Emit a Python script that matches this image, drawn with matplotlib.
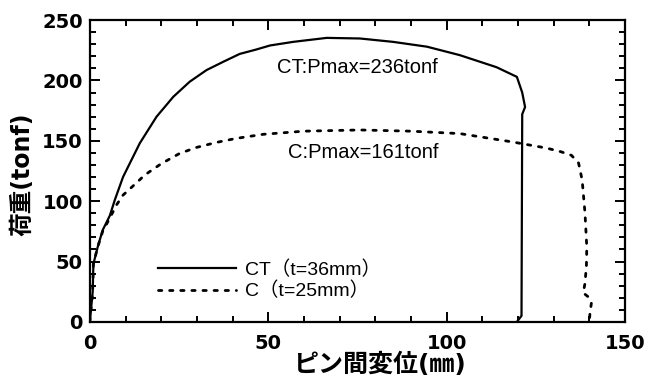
import matplotlib.pyplot as plt
from matplotlib.ticker import MultipleLocator

# CT (t=36mm) : 荷重-変位曲線
ct_x = [0, 0.8, 1.0, 2.2, 3.6, 5.6, 7, 9.3, 14, 18.7, 23.4, 28, 32.7, 37.4, 42,
        46.7, 50.5, 57, 66.4, 75.7, 85, 94.5, 103.7, 114, 119.7, 121.2, 122,
        121.2, 121, 119.7]
ct_y = [0, 25, 48, 62, 76, 88, 101, 120, 148, 170, 186.5, 199, 208.6, 215.5, 222,
        225.7, 229, 232, 235.3, 234.8, 232, 228, 221, 211, 203, 190, 178,
        172, 5, 0]

# C (t=25mm)
c_x = [0, 0.8, 1.0, 2.2, 3.6, 5.6, 7.5, 9.3, 13, 15.4, 20, 25.2, 30, 35.5, 41,
       48.6, 60, 75.7, 90, 103.7, 118.6, 128, 132, 135, 137, 138, 138.8, 139.3,
       139.2, 138.8, 138.3, 139.6, 140.6, 140.2, 140]
c_y = [0, 25, 48, 62, 75, 86, 97, 105, 115, 121.7, 131, 139.6, 144.6, 148.7, 152,
       155.4, 158, 159, 158, 156, 149, 144, 141, 138, 131.6, 117.5, 90, 62,
       47, 32, 24, 21, 15.7, 7.4, 0]

labels = ["CT（t=36mm）", "C（t=25mm）"]
notes = ["CT:Pmax=236tonf", "C:Pmax=161tonf"]

cjk = ['DejaVu Sans', 'Noto Sans CJK JP']
txt = ['Liberation Sans', 'Noto Sans CJK JP']

fig = plt.figure(figsize=(6.51, 3.8), dpi=100)
ax = fig.add_axes([0.138, 0.153, 0.822, 0.794])

ax.plot(ct_x, ct_y, color='black', lw=1.6, label=labels[0])
ax.plot(c_x, c_y, color='black', lw=2.0, linestyle=(0, (1.2, 2.8)),
        dash_capstyle='round', label=labels[1])

ax.set_xlim(0, 150)
ax.set_ylim(0, 250)
ax.xaxis.set_major_locator(MultipleLocator(50))
ax.xaxis.set_minor_locator(MultipleLocator(10))
ax.yaxis.set_major_locator(MultipleLocator(50))
ax.yaxis.set_minor_locator(MultipleLocator(10))
ax.tick_params(which='both', direction='in', top=True, right=True, width=1.4)
ax.tick_params(which='major', length=7.5)
ax.tick_params(which='minor', length=4.5)
ax.tick_params(axis='x', pad=9)
ax.tick_params(axis='y', pad=5)
for lab in ax.get_xticklabels() + ax.get_yticklabels():
    lab.set_fontfamily('DejaVu Sans')
    lab.set_fontweight('bold')
    lab.set_fontsize(14)
for s in ax.spines.values():
    s.set_linewidth(1.6)

ax.set_xlabel("ピン間変位(㎜)", family=cjk, fontsize=18, fontweight='bold', va='center')
ax.xaxis.set_label_coords(0.542, -0.142)
ax.set_ylabel("荷重(tonf)", family=cjk, fontsize=17, fontweight='bold', va='center')
ax.yaxis.set_label_coords(-0.127, 0.49)

ax.text(75, 211, notes[0], family=txt, fontsize=14.5, ha='center', va='center')
ax.text(76.6, 140, notes[1], family=txt, fontsize=14.5, ha='center', va='center')

leg = ax.legend(loc='center left', bbox_to_anchor=(0.127, 0.137), frameon=False,
                borderpad=0, borderaxespad=0, handlelength=4.0, handletextpad=0.5,
                labelspacing=0.15, prop={'family': txt, 'size': 14})

fig.savefig("out.png", dpi=100)
